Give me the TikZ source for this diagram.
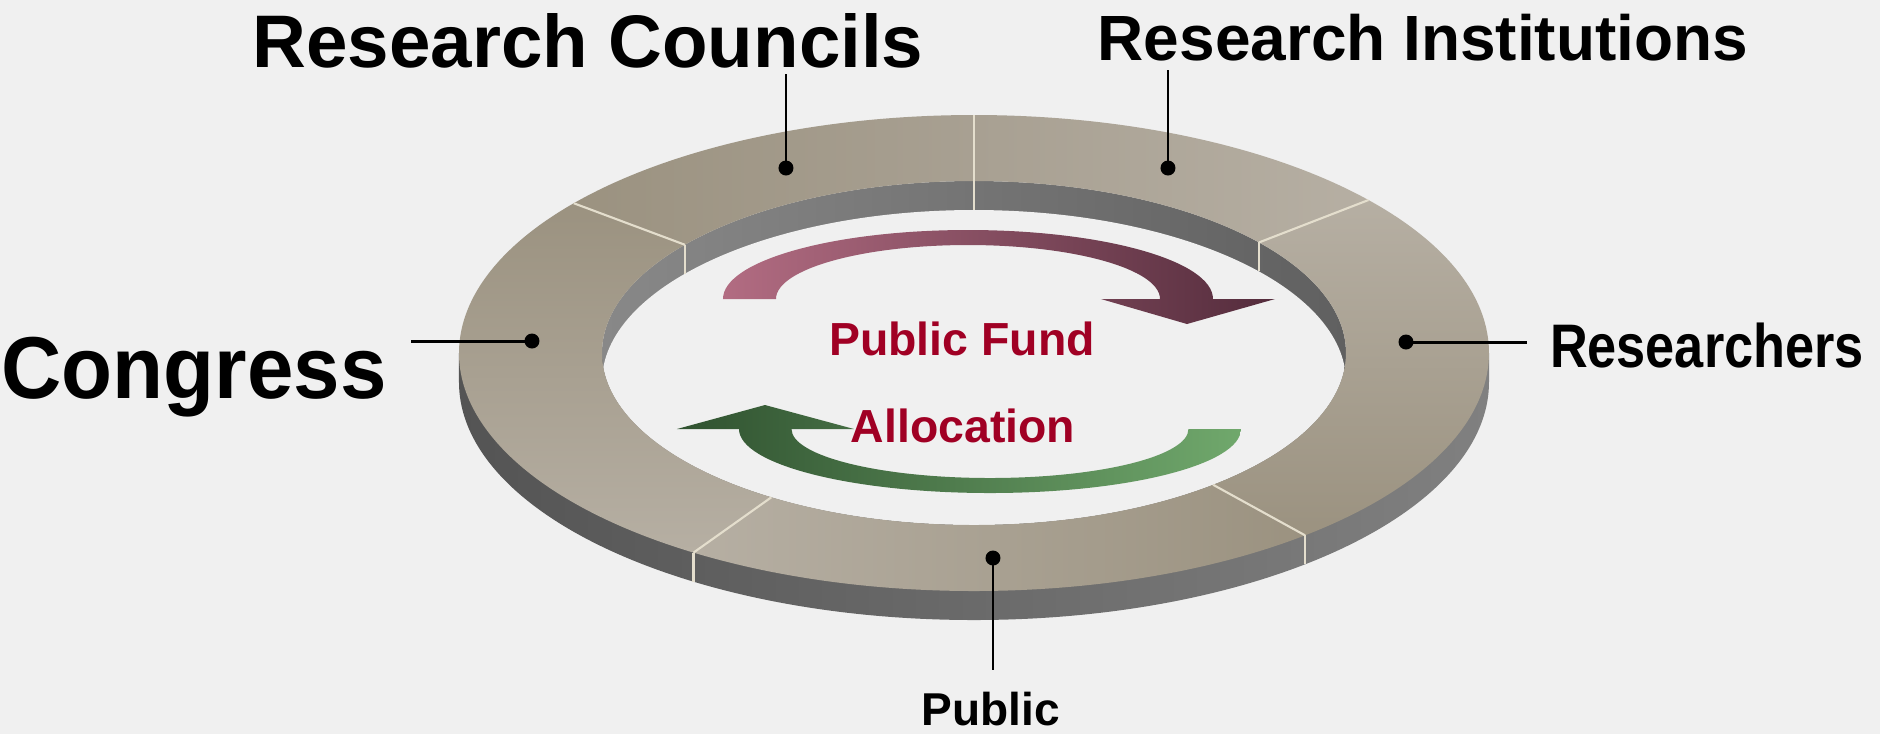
\documentclass[tikz,border=0pt]{standalone}
\usepackage{fontspec}
\setmainfont{Liberation Sans}
\usepackage{graphicx}
\usepackage{tikz}
\usetikzlibrary{calc}

\definecolor{bgcol}{RGB}{240,240,240}
\definecolor{ringdark}{RGB}{155,146,128}
\definecolor{ringmid}{RGB}{168,160,146}
\definecolor{ringlight}{RGB}{182,175,163}
\definecolor{sidedark}{RGB}{84,84,84}
\definecolor{sidelight}{RGB}{128,128,128}
\definecolor{walllight}{RGB}{136,136,136}
\definecolor{walldark}{RGB}{96,96,96}
\definecolor{divcol}{RGB}{228,222,205}
\definecolor{fundred}{RGB}{160,0,36}
\definecolor{fundpink}{RGB}{178,108,130}
\definecolor{fundmaroon}{RGB}{84,44,60}
\definecolor{allocdark}{RGB}{48,82,48}
\definecolor{alloclight}{RGB}{112,168,108}

\begin{document}
\begin{tikzpicture}[x=0.1mm,y=0.1mm,
  divline/.style={draw=divcol,line width=0.6pt},
  dot/.style={circle,fill=black,inner sep=0pt,minimum size=1.5mm},
  pointer/.style={line width=0.85pt},
  lbl/.style={anchor=base,inner sep=0pt}]
\fill[bgcol] (-974,-381) rectangle (906,353);
\useasboundingbox (-974,-381) rectangle (906,353);

\shade[left color=sidedark,right color=sidelight] (-515,0) -- (-515,-29) arc[start angle=180,end angle=360,x radius=515,y radius=238] -- (515,0) -- cycle;

\shade[left color=walllight,right color=walldark] (0,0) ellipse[x radius=372,y radius=172];
\begin{scope}
\clip (0,0) ellipse[x radius=372,y radius=172];
\fill[bgcol] (0,-29) ellipse[x radius=372,y radius=172];
\end{scope}

\foreach \a/\b/\sa/\ca/\cb in {40/90/90/ringmid/ringlight, 90/141/90/ringdark/ringmid, 141/237/0/ringdark/ringlight, 237/310/90/ringlight/ringdark, 310/400/0/ringlight/ringdark}
  \shade[top color=\ca,bottom color=\cb,shading angle=\sa] (\a:515 and 238) arc[start angle=\a,end angle=\b,x radius=515,y radius=238] -- (\b:372 and 172) arc[start angle=\b,end angle=\a,x radius=372,y radius=172] -- cycle;

\foreach \a in {40,90,141,237,310}
  \draw[divline] (\a:515 and 238) -- (\a:372 and 172);
\foreach \a in {40,90,141}
  \draw[divline] (\a:372 and 172) -- ++(0,-29);
\foreach \a in {237,310}
  \draw[divline] (\a:515 and 238) -- ++(0,-29);

\shade[left color=fundpink,right color=fundmaroon] (-251,54) arc[start angle=180,end angle=0,x radius=245,y radius=69] -- (301,54) -- (213,29) -- (127,54) -- (186,54) arc[start angle=0,end angle=180,x radius=192,y radius=54] -- cycle;
\shade[left color=allocdark,right color=alloclight] (267,-76) arc[start angle=0,end angle=-180,x radius=251,y radius=64] -- (-297,-76) -- (-209,-52) -- (-120,-76) -- (-182.5,-76) arc[start angle=180,end angle=360,x radius=198.5,y radius=49] -- cycle;

\node[lbl,text=fundred,font=\fontsize{13.2}{16}\selectfont\bfseries] (fund) at (-12,-2) {Public Fund};
\node[lbl,text=fundred,font=\fontsize{13.2}{16}\selectfont\bfseries] (alloc) at (-11,-89) {Allocation};

\node[lbl,font=\fontsize{21.2}{25}\selectfont\bfseries] (councils) at (-386,286) {Research Councils};
\node[lbl,font=\fontsize{18.2}{22}\selectfont\bfseries] (institutions) at (449,293) {Research Institutions};
\node[lbl,font=\fontsize{25}{30}\selectfont\bfseries] (congress) at (-780,-45) {\scalebox{0.95}[1]{Congress}};
\node[lbl,font=\fontsize{17.5}{21}\selectfont\bfseries] (researchers) at (733,-14) {\scalebox{0.85}[1]{Researchers}};
\node[lbl,font=\fontsize{13.1}{16}\selectfont\bfseries] (public) at (17,-372) {Public};

\node[dot] (councilsdot) at (-188,185) {};
\node[dot] (institutionsdot) at (194,185) {};
\node[dot] (congressdot) at (-442,12) {};
\node[dot] (researchersdot) at (432,11) {};
\node[dot] (publicdot) at (19,-205) {};
\coordinate (councilsend) at (-188,279);
\coordinate (institutionsend) at (194,283);
\coordinate (congressend) at (-563,12);
\coordinate (researchersend) at (553,11);
\coordinate (publicend) at (19,-317);

\draw[pointer] (councilsdot.center) -- (councilsend);
\draw[pointer] (institutionsdot.center) -- (institutionsend);
\draw[pointer] (congressdot.center) -- (congressend);
\draw[pointer] (researchersdot.center) -- (researchersend);
\draw[pointer] (publicdot.center) -- (publicend);
\end{tikzpicture}
\end{document}
